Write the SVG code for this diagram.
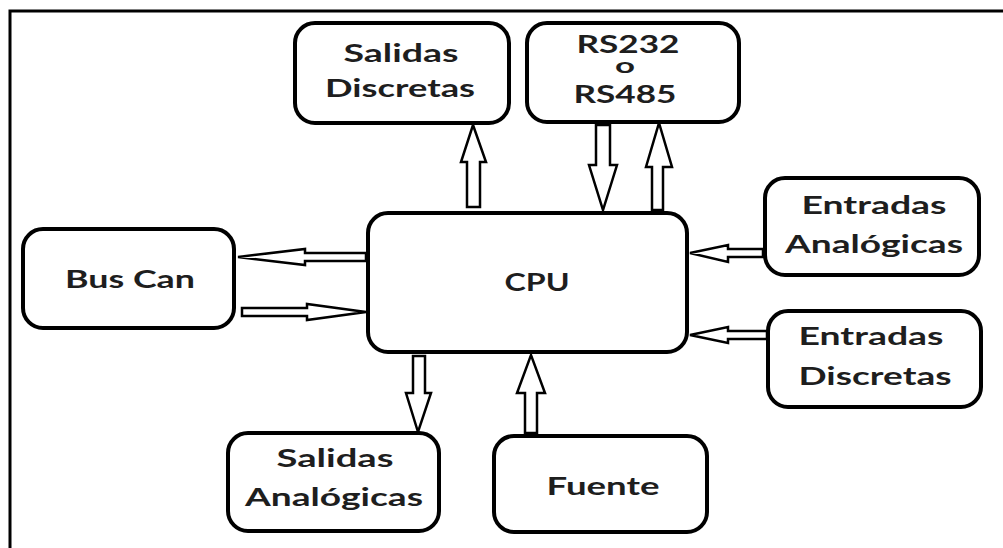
<svg xmlns="http://www.w3.org/2000/svg" width="1003" height="548" viewBox="0 0 1003 548">
  <style>
    .box { fill: #ffffff; stroke: #000000; stroke-width: 4; }
    .arrow { fill: #ffffff; stroke: #000000; stroke-width: 2.5; stroke-linejoin: miter; }
    .lbl { font-family: Lato, "Open Sans", "Liberation Sans", sans-serif; font-weight: bold; font-size: 24px; fill: #1e1e1e; text-anchor: middle; }
    .small { font-size: 21px; }
  </style>
  <rect width="1003" height="548" fill="#ffffff"/>
  <!-- outer frame -->
  <rect x="10" y="11" width="1000" height="545" fill="none" stroke="#000000" stroke-width="3"/>

  <g id="connectors">
    <!-- CPU to Salidas Discretas -->
    <polygon class="arrow" points="467,207 467,162 461,162 473,125 486,162 480,162 480,207"/>
    <!-- RS232/RS485 to CPU -->
    <polygon class="arrow" points="596,125 596,165 589,165 603,210 617,165 610,165 610,125"/>
    <!-- CPU to RS232/RS485 -->
    <polygon class="arrow" points="652,210 652,167 646,167 659,123 672,167 663,167 663,210"/>
    <!-- Entradas Analógicas to CPU -->
    <polygon class="arrow" points="763,249 728,249 728,245 690,253 728,262 728,257 763,257"/>
    <!-- Entradas Discretas to CPU -->
    <polygon class="arrow" points="767,331 728,331 728,327 690,335 728,343 728,339 767,339"/>
    <!-- CPU to Bus Can -->
    <polygon class="arrow" points="366,253 305,253 305,249 238,257 305,265 305,261 366,261"/>
    <!-- Bus Can to CPU -->
    <polygon class="arrow" points="242,308 307,308 307,304 366,312 307,320 307,316 242,316"/>
    <!-- CPU to Salidas Analógicas -->
    <polygon class="arrow" points="413,356 413,393 406,393 418,432 431,393 425,393 425,356"/>
    <!-- Fuente to CPU -->
    <polygon class="arrow" points="525,433 525,393 517,393 531,355 545,393 537,393 537,433"/>
  </g>

  <g id="salidas-discretas">
    <rect class="box" x="295" y="23" width="214" height="100" rx="20"/>
    <text class="lbl" x="401" y="62" textLength="115" lengthAdjust="spacingAndGlyphs">Salidas</text>
    <text class="lbl" x="400" y="97" textLength="150" lengthAdjust="spacingAndGlyphs">Discretas</text>
  </g>

  <g id="rs232-rs485">
    <rect class="box" x="527" y="23" width="212" height="99" rx="20"/>
    <text class="lbl" x="628" y="53" textLength="103" lengthAdjust="spacingAndGlyphs">RS232</text>
    <text class="lbl small" x="625" y="73" textLength="20" lengthAdjust="spacingAndGlyphs">o</text>
    <text class="lbl" x="625" y="103" textLength="103" lengthAdjust="spacingAndGlyphs">RS485</text>
  </g>

  <g id="entradas-analogicas">
    <rect class="box" x="765" y="178" width="214" height="97" rx="20"/>
    <text class="lbl" x="874" y="214" textLength="145" lengthAdjust="spacingAndGlyphs">Entradas</text>
    <text class="lbl" x="874" y="253" textLength="178" lengthAdjust="spacingAndGlyphs">Analógicas</text>
  </g>

  <g id="entradas-discretas">
    <rect class="box" x="768" y="311" width="213" height="96" rx="20"/>
    <text class="lbl" x="871" y="345" textLength="145" lengthAdjust="spacingAndGlyphs">Entradas</text>
    <text class="lbl" x="875" y="385" textLength="153" lengthAdjust="spacingAndGlyphs">Discretas</text>
  </g>

  <g id="cpu">
    <rect class="box" x="368" y="213" width="319" height="139" rx="20"/>
    <text class="lbl" x="537" y="291" textLength="65" lengthAdjust="spacingAndGlyphs">CPU</text>
  </g>

  <g id="bus-can">
    <rect class="box" x="23" y="229" width="211" height="99" rx="20"/>
    <text class="lbl" x="130" y="288" textLength="130" lengthAdjust="spacingAndGlyphs">Bus Can</text>
  </g>

  <g id="salidas-analogicas">
    <rect class="box" x="228" y="433" width="211" height="98" rx="20"/>
    <text class="lbl" x="335" y="467" textLength="117" lengthAdjust="spacingAndGlyphs">Salidas</text>
    <text class="lbl" x="334" y="506" textLength="178" lengthAdjust="spacingAndGlyphs">Analógicas</text>
  </g>

  <g id="fuente">
    <rect class="box" x="494" y="436" width="213" height="96" rx="20"/>
    <text class="lbl" x="603" y="495" textLength="113" lengthAdjust="spacingAndGlyphs">Fuente</text>
  </g>
</svg>
